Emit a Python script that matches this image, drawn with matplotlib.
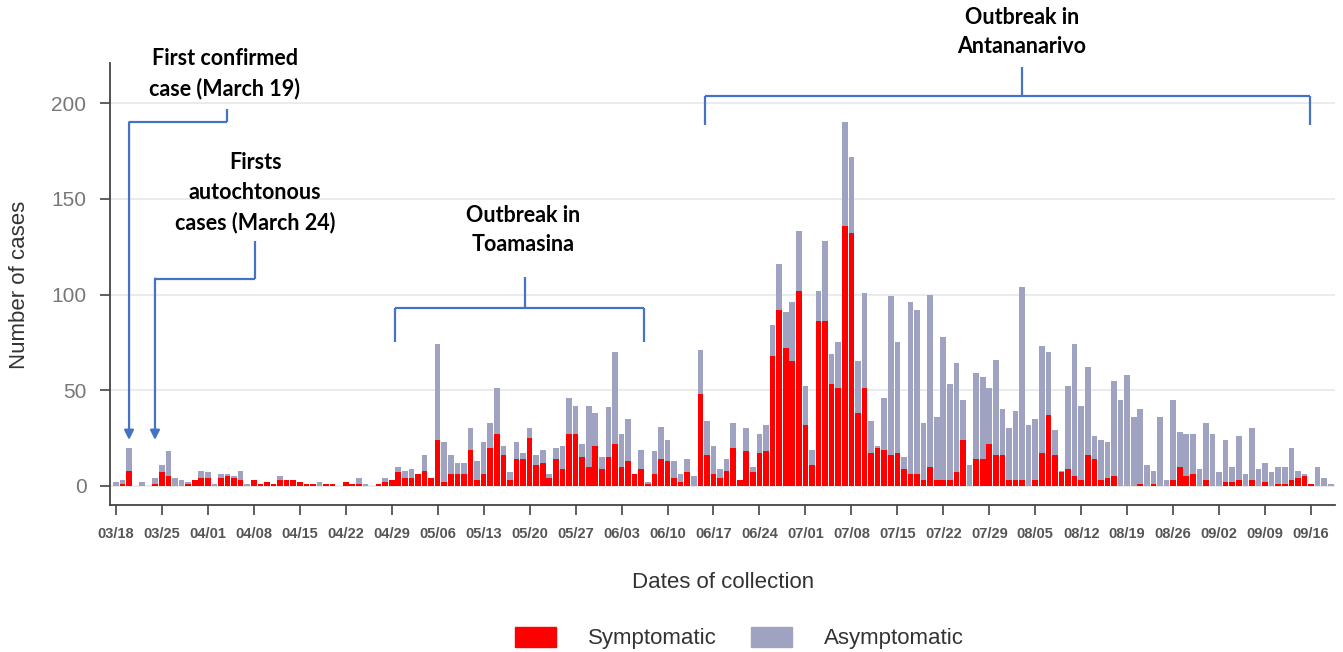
import matplotlib
matplotlib.use("Agg")
import matplotlib.pyplot as plt
import numpy as np
import pandas as pd
from matplotlib.patches import Patch

# daily PCR-positive cases, starting 2020-03-18
START = "2020-03-18"
SYMPTOMATIC = [
    0, 1, 8, 0, 0, 0, 1, 7, 5, 0,
    0, 1, 3, 4, 4, 0, 4, 5, 4, 3,
    0, 3, 1, 2, 1, 3, 3, 3, 2, 1,
    1, 0, 1, 1, 0, 2, 1, 1, 0, 0,
    1, 2, 3, 7, 4, 4, 6, 8, 4, 24,
    2, 6, 6, 6, 19, 3, 6, 20, 27, 16,
    3, 14, 14, 25, 11, 12, 4, 14, 9, 27,
    27, 15, 10, 21, 9, 15, 22, 10, 13, 6,
    9, 1, 6, 14, 13, 4, 2, 7, 0, 48,
    16, 6, 4, 8, 20, 3, 18, 7, 17, 18,
    68, 92, 72, 65, 102, 32, 11, 86, 86, 53,
    51, 136, 132, 38, 51, 17, 20, 19, 16, 17,
    9, 6, 6, 3, 10, 3, 3, 3, 7, 24,
    0, 14, 14, 22, 16, 16, 3, 3, 3, 0,
    3, 17, 37, 16, 7, 9, 5, 3, 16, 14,
    3, 4, 5, 0, 0, 0, 1, 0, 1, 0,
    0, 3, 10, 5, 6, 0, 3, 0, 0, 2,
    2, 3, 0, 3, 0, 2, 0, 1, 1, 3,
    4, 5, 1, 0, 0, 0,
]
ASYMPTOMATIC = [
    2, 2, 12, 0, 2, 0, 3, 4, 13, 4,
    3, 1, 0, 4, 3, 1, 2, 1, 1, 5,
    1, 0, 0, 0, 0, 2, 0, 0, 0, 0,
    0, 2, 0, 0, 0, 0, 0, 3, 1, 0,
    0, 2, 0, 3, 4, 5, 0, 8, 0, 50,
    21, 10, 6, 6, 11, 10, 17, 13, 24, 5,
    4, 9, 3, 5, 5, 7, 2, 6, 12, 19,
    15, 7, 32, 17, 6, 26, 48, 17, 22, 0,
    10, 1, 12, 17, 11, 9, 4, 7, 5, 23,
    18, 15, 5, 6, 13, 0, 12, 3, 10, 14,
    16, 24, 19, 31, 31, 20, 8, 16, 42, 16,
    24, 54, 40, 27, 50, 17, 1, 27, 83, 58,
    6, 90, 86, 30, 90, 33, 75, 50, 57, 21,
    11, 45, 43, 29, 50, 24, 27, 36, 101, 32,
    32, 56, 33, 13, 1, 43, 69, 39, 46, 12,
    21, 19, 50, 45, 58, 36, 39, 11, 7, 36,
    3, 42, 18, 22, 21, 9, 30, 27, 7, 22,
    8, 23, 6, 27, 9, 10, 7, 9, 9, 17,
    4, 1, 0, 10, 4, 1,
]

RED = "#FF0000"
GREY = "#A0A2C2"
BLUE = "#4472C4"
W, H = 1343, 652


def bracket(ax, x0, x1, xm, y, top, bottom):
    # horizontal bar with a stem up to the label and legs down
    kw = dict(color=BLUE, lw=1.6, clip_on=False, solid_capstyle="butt")
    ax.plot([x0, x1], [y, y], **kw)
    ax.plot([xm, xm], [y, top], **kw)
    ax.plot([x0, x0], [y, bottom], **kw)
    ax.plot([x1, x1], [y, bottom], **kw)


def arrow(ax, x, y0, y1, xm, top):
    kw = dict(color=BLUE, lw=1.6, clip_on=False, solid_capstyle="butt")
    ax.plot([x, xm], [y0, y0], **kw)
    ax.plot([xm, xm], [y0, top], **kw)
    ax.annotate("", xy=(x, y1), xytext=(x, y0), annotation_clip=False,
                arrowprops=dict(arrowstyle="-|>", color=BLUE, lw=1.6,
                                mutation_scale=14, shrinkA=0, shrinkB=0))


def main():
    plt.rcParams["font.family"] = ["Liberation Sans", "DejaVu Sans"]
    dates = pd.date_range(START, periods=len(SYMPTOMATIC), freq="D")
    days = np.arange(len(dates))

    fig = plt.figure(figsize=(W / 100, H / 100), dpi=100)
    ax = fig.add_axes([110 / W, 147 / H, 1225 / W, 442 / H])

    ax.bar(days, SYMPTOMATIC, width=0.86, color=RED, zorder=2)
    ax.bar(days, ASYMPTOMATIC, bottom=SYMPTOMATIC, width=0.86, color=GREY,
           zorder=2)

    ax.set_xlim(-0.9, 185.65)
    ax.set_ylim(-10, 221)
    ticks = days[::7]
    ax.set_xticks(ticks)
    ax.set_xticklabels([d.strftime("%m/%d") for d in dates[::7]],
                       fontsize=10.5, fontweight="bold", color="#555555")
    ax.set_yticks([0, 50, 100, 150, 200])
    ax.tick_params(axis="y", labelsize=15, labelcolor="#777777", length=7,
                   width=1.2, color="#444444", pad=10)
    ax.tick_params(axis="x", length=7, width=1.2, color="#444444", pad=9)
    ax.yaxis.grid(True, color="#e6e6e6", lw=1.1)
    ax.set_axisbelow(True)
    for s in ["top", "right"]:
        ax.spines[s].set_visible(False)
    for s in ["left", "bottom"]:
        ax.spines[s].set_color("#444444")
        ax.spines[s].set_linewidth(1.3)

    fig.text(20 / W, 1 - 285 / H, "Number of cases", rotation=90,
             ha="center", va="center", fontsize=16, color="#333333")
    fig.text(723 / W, 1 - 582 / H, "Dates of collection", ha="center",
             va="center", fontsize=16, color="#333333")

    # annotations
    note = dict(ha="center", va="center", fontsize=15.5, fontweight="bold",
                family=["Lato", "DejaVu Sans"], linespacing=1.5, color="black")
    ax.text(16.6, 215.5, "First confirmed\ncase (March 19)", **note)
    arrow(ax, 2.0, 190, 24, 16.9, 197)
    ax.text(21.2, 153.2, "Firsts\nautochtonous\ncases (March 24)", **note)
    arrow(ax, 5.95, 108.3, 24, 21.2, 128)
    ax.text(62.0, 133.6, "Outbreak in\nToamasina", **note)
    bracket(ax, 42.5, 80.4, 62.3, 93.1, 109.3, 75.3)
    ax.text(138.0, 237.2, "Outbreak in\nAntananarivo", **note)
    bracket(ax, 89.7, 181.8, 138.0, 204.0, 219.1, 188.8)

    handles = [Patch(color=RED, label="Symptomatic"),
               Patch(color=GREY, label="Asymptomatic")]
    fig.legend(handles=handles, loc="center", ncol=2, frameon=False,
               bbox_to_anchor=(739.5 / W, 1 - 638 / H), fontsize=16,
               handlelength=1.85, handleheight=1.05, handletextpad=1.45,
               columnspacing=1.5, labelcolor="#333333")

    fig.savefig("out.png", dpi=100)


if __name__ == "__main__":
    main()
